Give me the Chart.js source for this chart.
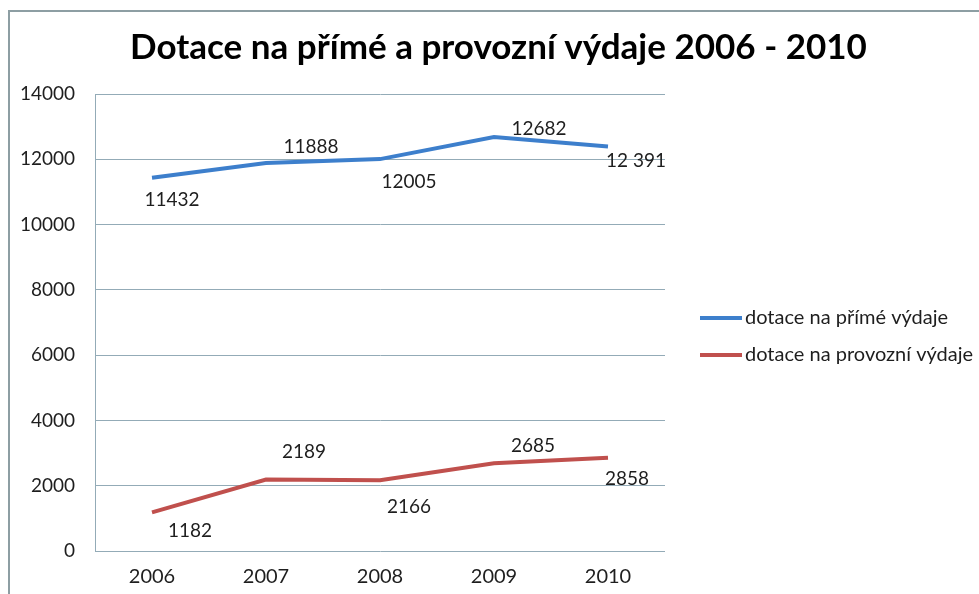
<!DOCTYPE html>
<html>
<head>
<meta charset="utf-8">
<script src="https://cdn.jsdelivr.net/npm/chart.js@4/dist/chart.umd.min.js"></script>
<style>
  html, body { margin: 0; padding: 0; background: #fff; }
  #frame {
    position: absolute; left: 8px; top: 10px; width: 980px; height: 600px;
    border-left: 2px solid #8d9ea3; border-top: 2px solid #8d9ea3;
  }
  #wrap { position: absolute; left: 10px; top: 12px; width: 969px; height: 582px; }
</style>
</head>
<body>
<div id="frame"></div>
<div id="wrap"><canvas id="chart"></canvas></div>
<script>
const years = ['2006', '2007', '2008', '2009', '2010'];
const primeValues = [11432, 11888, 12005, 12682, 12391];
const provozniValues = [1182, 2189, 2166, 2685, 2858];
const primeLabels = ['11432', '11888', '12005', '12682', '12 391'];
const provozniLabels = ['1182', '2189', '2166', '2685', '2858'];
const yTicks = [0, 2000, 4000, 6000, 8000, 10000, 12000, 14000];

// where each value label sits relative to its point (px)
const primeOffsets = [[20, 22], [45, -16], [29, 23], [45, -8], [28, 14]];
const provozniOffsets = [[38, 18], [38, -28], [29, 27], [39, -17], [19, 21]];

const FONT = 'Lato, "Open Sans", sans-serif';
const TEXT = '#1e1e1e';

const valueLabels = {
  id: 'valueLabels',
  afterDatasetsDraw(chart) {
    const ctx = chart.ctx;
    ctx.save();
    ctx.font = '19px ' + FONT;
    ctx.fillStyle = TEXT;
    ctx.textAlign = 'center';
    ctx.textBaseline = 'middle';
    chart.data.datasets.forEach((ds, di) => {
      const meta = chart.getDatasetMeta(di);
      meta.data.forEach((pt, i) => {
        const [dx, dy] = ds.labelOffsets[i];
        ctx.fillText(ds.valueLabels[i], pt.x + dx, pt.y + dy);
      });
    });
    ctx.restore();
  }
};

// legend drawn to the right of the plot, like the Excel original
const sideLegend = {
  id: 'sideLegend',
  afterDraw(chart) {
    const ctx = chart.ctx;
    const area = chart.chartArea;
    const x0 = area.right + 35;
    const midY = (area.top + area.bottom) / 2 + 14;
    const step = 37;
    const n = chart.data.datasets.length;
    ctx.save();
    ctx.font = '20px ' + FONT;
    ctx.textAlign = 'left';
    ctx.textBaseline = 'middle';
    chart.data.datasets.forEach((ds, i) => {
      const y = midY + (i - (n - 1) / 2) * step;
      ctx.strokeStyle = ds.borderColor;
      ctx.lineWidth = 4;
      ctx.beginPath();
      ctx.moveTo(x0, y);
      ctx.lineTo(x0 + 42, y);
      ctx.stroke();
      ctx.fillStyle = TEXT;
      ctx.fillText(ds.label, x0 + 45, y);
    });
    ctx.restore();
  }
};

new Chart(document.getElementById('chart'), {
  type: 'line',
  data: {
    labels: years,
    datasets: [
      {
        label: 'dotace na přímé výdaje',
        data: primeValues,
        borderColor: '#3d7fcc',
        backgroundColor: '#3d7fcc',
        borderWidth: 4,
        pointRadius: 0,
        tension: 0,
        valueLabels: primeLabels,
        labelOffsets: primeOffsets
      },
      {
        label: 'dotace na provozní výdaje',
        data: provozniValues,
        borderColor: '#c0504d',
        backgroundColor: '#c0504d',
        borderWidth: 4,
        pointRadius: 0,
        tension: 0,
        valueLabels: provozniLabels,
        labelOffsets: provozniOffsets
      }
    ]
  },
  options: {
    responsive: true,
    maintainAspectRatio: false,
    animation: false,
    layout: { padding: { left: 8, right: 0, bottom: 6 } },
    plugins: {
      title: {
        display: true,
        text: 'Dotace na přímé a provozní výdaje 2006 - 2010',
        color: '#000',
        font: { family: FONT, size: 35, weight: 'bold' },
        padding: { top: 15, bottom: 25 }
      },
      legend: { display: false },
      tooltip: { enabled: false }
    },
    scales: {
      x: {
        offset: true,
        grid: { display: false, drawTicks: false },
        border: { display: false },
        ticks: { color: TEXT, padding: 14, font: { family: FONT, size: 20 } },
        afterFit(scale) { scale.height = 37; }
      },
      y: {
        min: 0,
        max: 14000,
        afterBuildTicks(axis) { axis.ticks = yTicks.map(v => ({ value: v })); },
        grid: { color: '#93abb7', lineWidth: 1, drawTicks: false },
        border: { display: true, color: '#93abb7', width: 1 },
        ticks: {
          color: TEXT,
          padding: 20,
          font: { family: FONT, size: 19 },
          callback: (v) => String(v)
        },
        afterFit(scale) { scale.width = 77; }
      },
      // empty axis that keeps room for the legend on the right
      legendSpace: {
        type: 'linear',
        position: 'right',
        grid: { display: false },
        border: { display: false },
        ticks: { display: false },
        afterFit(scale) { scale.width = 314; }
      }
    }
  },
  plugins: [valueLabels, sideLegend]
});
</script>
</body>
</html>
